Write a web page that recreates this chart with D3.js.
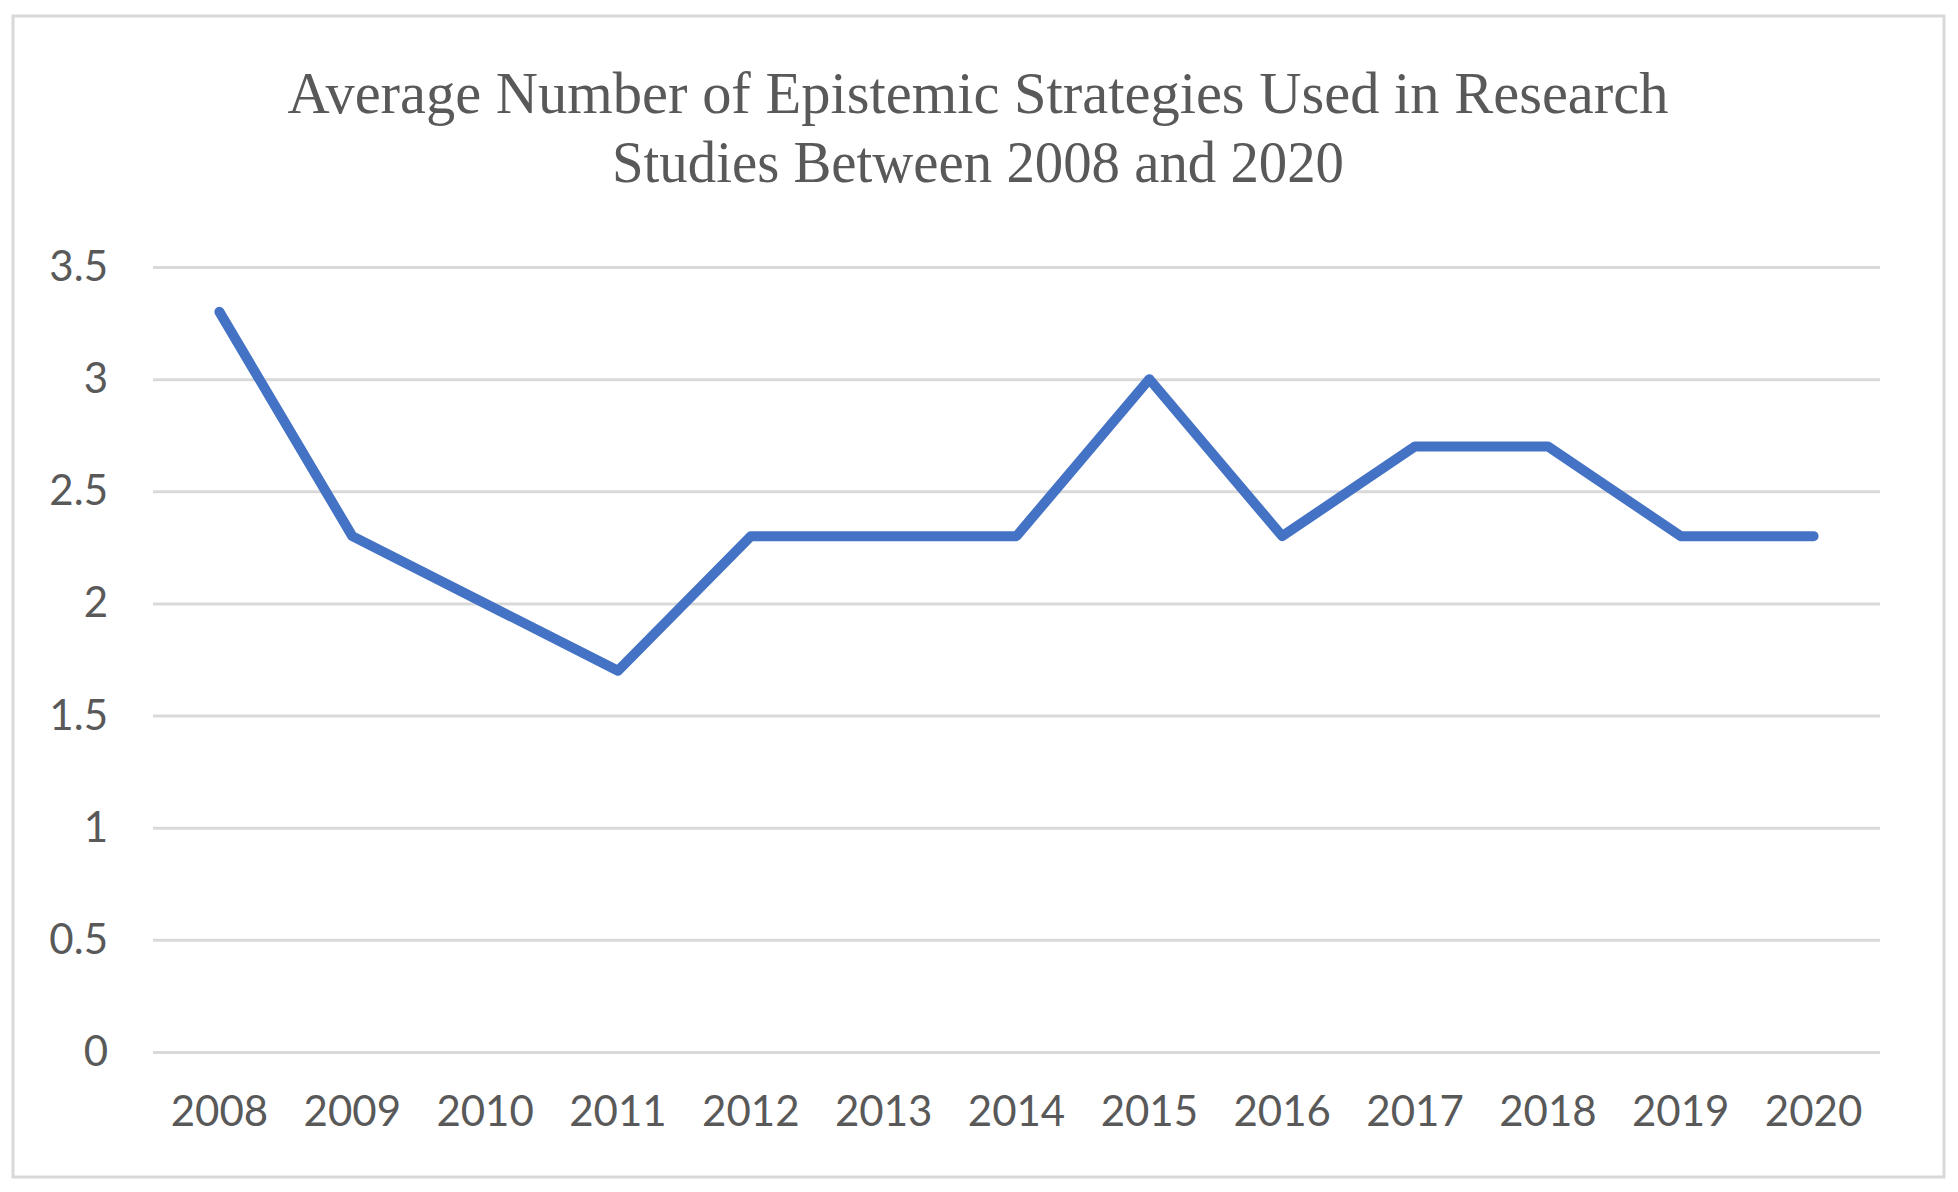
<!DOCTYPE html>
<html>
<head>
<meta charset="utf-8">
<script src="https://cdn.jsdelivr.net/npm/d3@7"></script>
<style>
  body { margin: 0; background: #fff; }
</style>
</head>
<body>
<script>
// data
var years = ["2008", "2009", "2010", "2011", "2012", "2013", "2014", "2015", "2016", "2017", "2018", "2019", "2020"];
var averages = [3.3, 2.3, 2.0, 1.7, 2.3, 2.3, 2.3, 3.0, 2.3, 2.7, 2.7, 2.3, 2.3];
var yTicks = [0, 0.5, 1, 1.5, 2, 2.5, 3, 3.5];
var titleLines = ["Average Number of Epistemic Strategies Used in Research", "Studies Between 2008 and 2020"];

document.addEventListener("DOMContentLoaded", init);

function init(){
    var width = 1958, height = 1192;
    var margin = {top: 267, right: 78, bottom: 140, left: 153};
    var plotW = width - margin.left - margin.right,
        plotH = height - margin.top - margin.bottom;

    var svg = d3.select("body").append("svg")
        .attr("width", width)
        .attr("height", height);

    //outer frame
    svg.append("rect")
        .attr("x", 13).attr("y", 16)
        .attr("width", 1931).attr("height", 1161)
        .attr("fill", "#fff")
        .attr("stroke", "#d9d9d9")
        .attr("stroke-width", 3);

    //title, two lines
    svg.append("g")
        .selectAll("text")
        .data(titleLines)
        .enter()
        .append("text")
        .attr("x", 978)
        .attr("y", function(d, i){ return 113 + i * 69; })
        .attr("text-anchor", "middle")
        .attr("fill", "#595959")
        .style("font-family", "'Liberation Serif', serif")
        .style("font-size", "59px")
        .attr("textLength", function(d, i){ return i === 0 ? 1381 : 732; })
        .attr("lengthAdjust", "spacingAndGlyphs")
        .text(function(d){ return d; });

    var g = svg.append("g")
        .attr("transform", "translate(" + margin.left + "," + margin.top + ")");

    var x = d3.scaleBand()
        .domain(years)
        .range([0, plotW]);

    var y = d3.scaleLinear()
        .domain([0, 3.5])
        .range([plotH, 0]);

    // y axis + gridlines
    var yAxis = g.append("g")
        .call(d3.axisLeft(y)
            .tickValues(yTicks)
            .tickSize(-plotW)
            .tickPadding(45)
            .tickFormat(d3.format("~g")));
    yAxis.select(".domain").remove();
    yAxis.selectAll(".tick line")
        .attr("stroke", "#d9d9d9")
        .attr("stroke-width", 3);
    yAxis.selectAll("text")
        .attr("fill", "#595959")
        .style("font-family", "Lato, sans-serif")
        .style("font-size", "42px");

    // x axis
    var xAxis = g.append("g")
        .attr("transform", "translate(0," + plotH + ")")
        .call(d3.axisBottom(x).tickSize(0).tickPadding(44));
    xAxis.select(".domain").remove();
    xAxis.selectAll("text")
        .attr("fill", "#595959")
        .style("font-family", "Lato, sans-serif")
        .style("font-size", "42px");

    // the line
    var line = d3.line()
        .x(function(d, i){ return x(years[i]) + x.bandwidth() / 2; })
        .y(function(d){ return y(d); });

    g.append("path")
        .datum(averages)
        .attr("fill", "none")
        .attr("stroke", "#4472c4")
        .attr("stroke-width", 10)
        .attr("stroke-linejoin", "round")
        .attr("stroke-linecap", "round")
        .attr("d", line);
}
</script>
</body>
</html>
